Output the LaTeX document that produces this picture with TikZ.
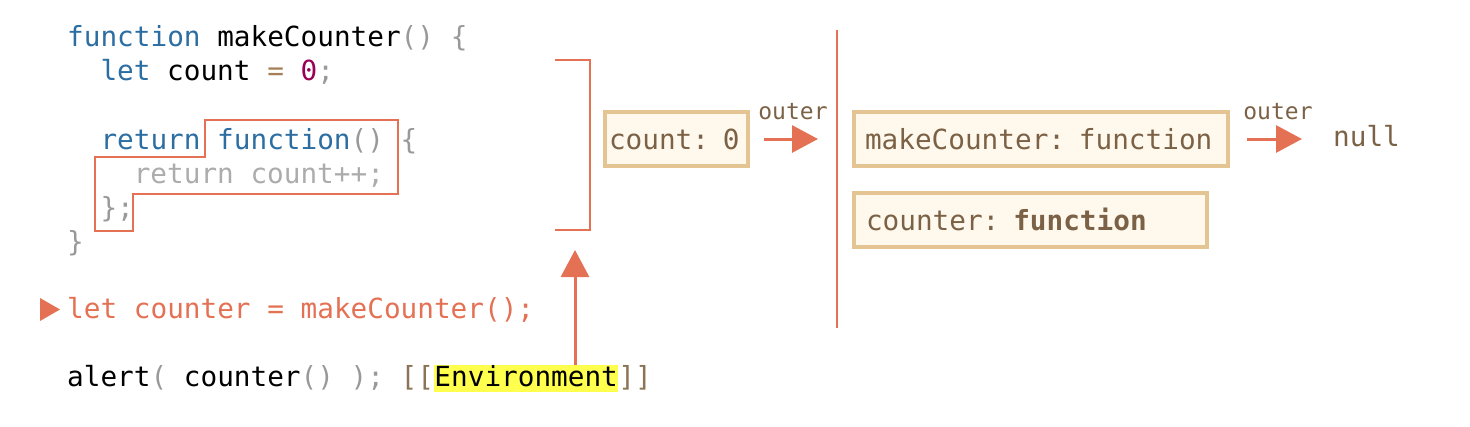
\documentclass[tikz,border=0pt]{standalone}
\usepackage{fontspec}
\usepackage{xcolor}
\newfontfamily\codefont{DejaVu Sans Mono}
\usepackage{tikz}
\usetikzlibrary{arrows.meta}

\definecolor{kwblue}{RGB}{44,110,162}
\definecolor{punc}{RGB}{153,153,153}
\definecolor{ltgray}{RGB}{172,172,172}
\definecolor{opbrown}{RGB}{166,127,89}
\definecolor{numred}{RGB}{153,0,85}
\definecolor{accent}{RGB}{228,113,84}
\definecolor{boxfill}{RGB}{255,248,236}
\definecolor{boxedge}{RGB}{228,196,146}
\definecolor{boxtxt}{RGB}{123,98,70}
\definecolor{brk}{RGB}{139,115,85}
\definecolor{hl}{RGB}{255,255,77}

\begin{document}
\begin{tikzpicture}[x=1pt,y=-1pt,
  code/.style={font={\codefont\fontsize{27.7pt}{32pt}\selectfont},inner sep=0pt,anchor=base west},
  envbox/.style={draw=boxedge,line width=4pt,fill=boxfill,text=boxtxt,
    font={\codefont\fontsize{27.7pt}{32pt}\selectfont},align=left,
    minimum height=54pt,inner ysep=0pt,anchor=west},
  lbl/.style={font={\codefont\fontsize{23pt}{26pt}\selectfont},text=boxtxt},
  ptr/.style={draw=accent,line width=3pt,-{Triangle[length=26pt,width=27pt]}},
  frame/.style={draw=accent,line width=2pt}]
\useasboundingbox (0,0) rectangle (1470,426);

% Code of makeCounter
\node[code] (l1) at (67,46) {\textcolor{kwblue}{function} makeCounter\textcolor{punc}{() \{}};
\node[code] (l2) at (100.3,80.3) {\textcolor{kwblue}{let} count \textcolor{opbrown}{=} \textcolor{numred}{0}\textcolor{punc}{;}};
\node[code] (l4) at (100.3,149) {\textcolor{kwblue}{return function}\textcolor{punc}{() \{}};
\node[code,text=ltgray] (l5) at (133.6,183.2) {return count++;};
\node[code,text=punc] (l6) at (100.3,217.5) {\};};
\node[code,text=punc] (l7) at (67,251.8) {\}};

% Current line
\fill[accent] (40,298) -- (40,321) -- (60,309.5) -- cycle;
\node[code,text=accent] (l8) at (67,318) {let counter = makeCounter();};

% Call line
\node[code] (l9) at (67,386) {alert\textcolor{punc}{(} counter\textcolor{punc}{() );} \textcolor{brk}{[[}};
\node[code,fill=hl,text height=21pt,text depth=6pt] (env) at (l9.base east) {Environment};
\node[code,text=brk] (l9b) at (env.base east) {]]};

% Inner function outline
\draw[frame] (205,120) -- (398,120) -- (398,194) -- (133,194) -- (133,231)
  -- (95,231) -- (95,157) -- (205,157) -- cycle;

% Bracket of the call
\coordinate (brt) at (555,60);
\coordinate (brb) at (555,230);
\draw[frame] (brt) -- (590,60) -- (590,230) -- (brb);
\coordinate (lexref) at (575,250);
\draw[accent,line width=3pt,-{Triangle[length=27pt,width=28pt]}] (lexref |- env.north) -- (lexref);

% Lexical environment of the call
\node[envbox,text width=135pt,inner xsep=4pt] (cnt) at (603,139) {count: 0};
\coordinate (o1) at (818,139);
\draw[ptr] ([xshift=14pt]cnt.east) -- (o1);
\node[lbl] (o1lbl) at (793,112) {outer};

% Separator
\draw[frame] (837,30) -- (837,328);

% Global lexical environment
\node[envbox,text width=352pt,inner xsep=11pt] (mkc) at (852,139) {makeCounter: function};
\node[envbox,text width=329pt,inner xsep=12pt] (ctr) at (852,219.5) {counter: \textbf{function}};
\node[code,anchor=west,text=boxtxt] (nul) at (1333,136) {null};
\draw[ptr] ([xshift=17pt]mkc.east) -- ([xshift=-31pt]nul.west |- mkc.east);
\node[lbl] (o2lbl) at (1278,112) {outer};
\end{tikzpicture}
\end{document}
